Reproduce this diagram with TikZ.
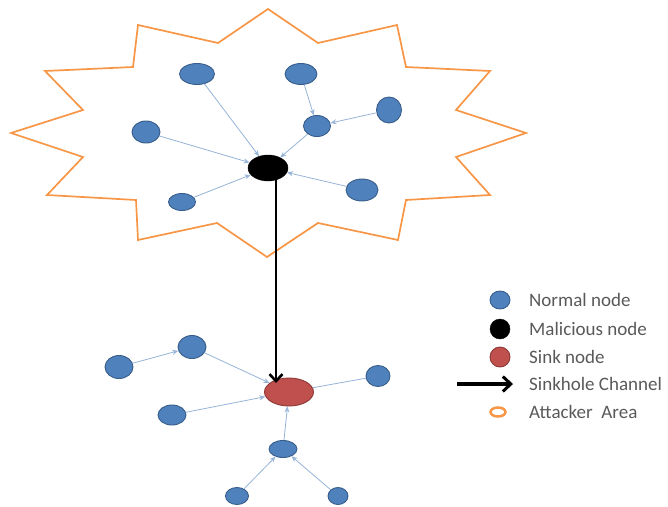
\documentclass[tikz,border=0pt]{standalone}
\usepackage{fontspec}
\setmainfont{Carlito}
\usetikzlibrary{arrows.meta,shapes.geometric}
\definecolor{nblue}{HTML}{4F81BD}
\definecolor{nblueb}{HTML}{385D8A}
\definecolor{sred}{HTML}{C0504D}
\definecolor{sredb}{HTML}{8C3836}
\definecolor{starc}{HTML}{F79646}
\definecolor{linkc}{HTML}{95B3D7}
\definecolor{txtc}{HTML}{595959}
\tikzset{
  normal/.style={ellipse, fill=nblue, draw=nblueb, line width=0.9pt, inner sep=0pt},
  malicious/.style={ellipse, fill=black, draw=black, inner sep=0pt},
  sink/.style={ellipse, fill=sred, draw=sredb, line width=0.9pt, inner sep=0pt},
  link/.style={draw=linkc, line width=0.8pt, -{Stealth[length=6pt,width=5pt,open]}},
  plainlink/.style={draw=linkc, line width=0.8pt},
  channel/.style={draw=black, line width=2.6pt, -{Straight Barb[length=7pt,width=13pt,line width=2.6pt]}},
  legchannel/.style={draw=black, line width=3.4pt, -{Straight Barb[length=8pt,width=15pt,line width=3pt]}},
  area/.style={draw=starc, line width=1.7pt, line join=miter},
  legtext/.style={anchor=west, text=txtc, font=\fontsize{19}{20}\selectfont, inner sep=0pt}
}
\newcommand{\nd}[5]{\node[#1, minimum width=#4pt, minimum height=#5pt] (#2) at #3 {};}
\begin{document}
\begin{tikzpicture}[x=1pt,y=-1pt]
\useasboundingbox (0,0) rectangle (668,506);
% attacker area (star)
\draw[area] (268,9) -- (318,43) -- (397,25) -- (406,67) -- (490,71) -- (456,110) -- (526,133)
  -- (456,157) -- (490,195) -- (406,200) -- (398,240) -- (318,223) -- (267,257)
  -- (217,223) -- (138,240) -- (136,200) -- (47,195) -- (83,157) -- (11,133)
  -- (83,110) -- (45,71) -- (133,67) -- (138,25) -- (218,43) -- cycle;
% top nodes
\nd{malicious}{m}{(268,168)}{40}{26}
\nd{normal}{n1}{(197,74)}{35}{21}
\nd{normal}{n2}{(301,74)}{32}{21}
\nd{normal}{n3}{(389,110)}{25}{26}
\nd{normal}{n4}{(317,126)}{27}{21}
\nd{normal}{n5}{(146,132)}{28}{22}
\nd{normal}{n6}{(182,202)}{27}{17}
\nd{normal}{n7}{(362,190)}{32}{22}
\draw[link] (n1) -- (m);
\draw[link] (n5) -- (m);
\draw[link] (n6) -- (m);
\draw[link] (n7) -- (m);
\draw[link] (n4) -- (m);
\draw[link] (n2) -- (n4);
\draw[link] (n3) -- (n4);
% bottom nodes
\nd{sink}{s}{(289,392)}{49}{28}
\nd{normal}{b1}{(192,347)}{28}{23}
\nd{normal}{b2}{(119,367)}{28}{23}
\nd{normal}{b3}{(172,415)}{28}{20}
\nd{normal}{b4}{(378,376)}{24}{21}
\nd{normal}{b5}{(283,449)}{28}{17}
\nd{normal}{b6}{(237,496)}{23}{17}
\nd{normal}{b7}{(338,496)}{20}{17}
\draw[link] (b2) -- (b1);
\draw[link] (b1) -- (s);
\draw[link] (b3) -- (s);
\draw[plainlink] (b4) -- (s);
\draw[link] (b5) -- (s);
\draw[link] (b6) -- (b5);
\draw[link] (b7) -- (b5);
% sinkhole channel
\coordinate (mbot) at (276,178);
\coordinate (stop) at (276,383);
\draw[channel] (mbot) -- (stop);
% legend
\node[normal, minimum width=20pt, minimum height=18pt] (l1) at (500,300) {};
\node[malicious, minimum width=20pt, minimum height=20pt] (l2) at (500,329) {};
\node[sink, minimum width=20pt, minimum height=20pt] (l3) at (500,357) {};
\coordinate (la) at (457,384);
\coordinate (lb) at (513,384);
\draw[legchannel] (la) -- (lb);
\node[draw=starc, line width=2.5pt, ellipse, minimum width=15pt, minimum height=9pt, inner sep=0pt] (l5) at (498,412) {};
\node[legtext] (t1) at (529,300) {Normal node};
\node[legtext] (t2) at (529,329) {Malicious node};
\node[legtext] (t3) at (529,357) {Sink node};
\node[legtext] (t4) at (529,384) {Sinkhole Channel};
\node[legtext] (t5) at (529,412) {Attacker\ \ Area};
\end{tikzpicture}
\end{document}
